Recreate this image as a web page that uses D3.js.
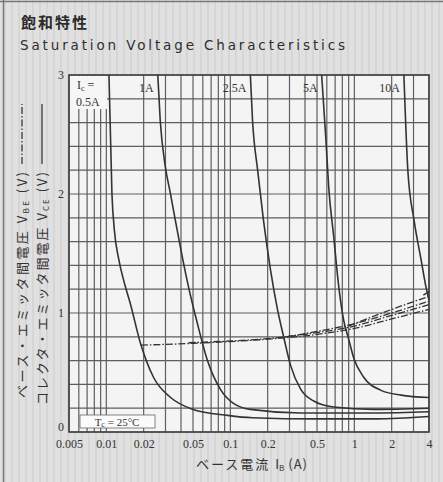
<!DOCTYPE html>
<html lang="ja">
<head>
  <meta charset="UTF-8" />
  <title>飽和特性 Saturation Voltage Characteristics</title>
  <script src="https://d3js.org/d3.v7.min.js"></script>
  <style>
    body {
      margin: 0;
      background: #dedede;
    }
    svg {
      display: block;
    }
    .grid line {
      stroke: #5e5e5e;
      stroke-width: 1.2px;
    }
    .tick-label text {
      font-family: "Liberation Serif", serif;
      font-size: 12px;
      fill: #333;
    }
    .curve {
      fill: none;
      stroke: #333;
      stroke-width: 1.6px;
    }
    .vbe {
      stroke-dasharray: 7 2 1.5 2;
      stroke-width: 1.3px;
    }
  </style>
</head>
<body>
  <svg width="443" height="482"></svg>

  <script>
    // collector current of each curve
    const icLabels = ["0.5A", "1A", "2.5A", "5A", "10A"];

    // V_CE vs I_B  ([I_B in A, V])
    const vce05 = [[0.0105, 3.0], [0.0111, 2.0], [0.0116, 1.7], [0.0126, 1.45], [0.014, 1.25], [0.0156, 1.08], [0.0188, 0.75], [0.024, 0.46], [0.033, 0.29], [0.05, 0.19], [0.095, 0.14], [0.15, 0.12], [0.5, 0.11], [1.5, 0.11], [4, 0.13]];
    const vce1 = [[0.026, 3.0], [0.0272, 2.62], [0.0299, 2.23], [0.0328, 2.01], [0.036, 1.78], [0.041, 1.47], [0.046, 1.22], [0.054, 0.92], [0.065, 0.61], [0.083, 0.36], [0.106, 0.24], [0.145, 0.19], [0.37, 0.16], [1.5, 0.16], [4, 0.17]];
    const vce25 = [[0.145, 3.0], [0.151, 2.62], [0.166, 2.2], [0.185, 1.78], [0.211, 1.36], [0.24, 1.03], [0.269, 0.8], [0.306, 0.56], [0.369, 0.36], [0.47, 0.26], [0.68, 0.21], [1.44, 0.19], [4, 0.2]];
    const vce5 = [[0.545, 3.0], [0.588, 2.48], [0.621, 2.06], [0.682, 1.64], [0.749, 1.22], [0.82, 0.94], [0.9, 0.78], [0.99, 0.62], [1.19, 0.46], [1.64, 0.35], [2.38, 0.31], [4, 0.29]];
    const vce10 = [[2.51, 3.0], [2.7, 2.2], [3.03, 1.78], [3.45, 1.45], [3.78, 1.22], [4, 1.11]];

    // V_BE vs I_B
    const vbe05 = [[0.019, 0.73], [0.05, 0.745], [0.1, 0.76], [0.2, 0.78], [0.5, 0.82], [1, 0.87], [2, 0.95], [4, 1.03]];
    const vbe1 = [[0.046, 0.75], [0.1, 0.765], [0.2, 0.785], [0.5, 0.835], [1, 0.89], [2, 0.98], [4, 1.07]];
    const vbe25 = [[0.28, 0.8], [0.5, 0.845], [1, 0.91], [2, 1.0], [4, 1.1]];
    const vbe5 = [[0.9, 0.89], [2, 1.03], [4, 1.14]];
    const vbe10 = [[3.6, 1.15], [4, 1.18]];

    const vceSeries = [vce05, vce1, vce25, vce5, vce10];
    const vbeSeries = [vbe05, vbe1, vbe25, vbe5, vbe10];

    const xTickValues = [0.005, 0.01, 0.02, 0.05, 0.1, 0.2, 0.5, 1, 2, 4];
    const xTickLabels = ["0.005", "0.01", "0.02", "0.05", "0.1", "0.2", "0.5", "1", "2", "4"];
    const yTickValues = [0, 1, 2, 3];

    const svg = d3.select("svg");
    const margin = { top: 75, right: 14, bottom: 50, left: 69 };
    const W = +svg.attr("width"), H = +svg.attr("height");

    const x = d3.scaleLog().domain([0.005, 4]).range([margin.left, W - margin.right]);
    const y = d3.scaleLinear().domain([0, 3]).range([H - margin.bottom, margin.top]);

    // scanned-paper background
    const defs = svg.append("defs");
    const stripes = defs.append("pattern")
      .attr("id", "scan").attr("patternUnits", "userSpaceOnUse")
      .attr("width", 7).attr("height", 10);
    stripes.append("rect").attr("width", 7).attr("height", 10).attr("fill", "#e0e0e0");
    stripes.append("rect").attr("x", 4).attr("width", 2).attr("height", 10).attr("fill", "#d6d6d6");

    svg.append("rect").attr("width", W).attr("height", H).attr("fill", "url(#scan)");
    svg.append("line").attr("x1", 0).attr("x2", W).attr("y1", 1.5).attr("y2", 1.5)
      .attr("stroke", "#777").attr("stroke-width", 1.5);
    svg.append("line").attr("x1", 3.5).attr("x2", 3.5).attr("y1", 0).attr("y2", H)
      .attr("stroke", "#777").attr("stroke-width", 1.5);

    // titles
    svg.append("text")
      .attr("x", 21).attr("y", 28)
      .attr("font-family", "'Noto Sans CJK JP', sans-serif")
      .attr("font-weight", "bold").attr("font-size", 15)
      .attr("letter-spacing", 2).attr("fill", "#2a2a2a")
      .text("飽和特性");
    svg.append("text")
      .attr("x", 20).attr("y", 50)
      .attr("font-family", "'DejaVu Sans', sans-serif")
      .attr("font-size", 13.5).attr("fill", "#2e2e2e")
      .attr("textLength", 325).attr("lengthAdjust", "spacing")
      .text("Saturation Voltage Characteristics");

    // plot area
    const [x0, x1] = x.range(), [y0, y1] = y.range();
    svg.append("rect")
      .attr("x", x0).attr("y", y1).attr("width", x1 - x0).attr("height", y0 - y1)
      .attr("fill", "#f4f4f4");

    const grid = svg.append("g").attr("class", "grid");
    grid.selectAll(".gx").data(x.ticks()).join("line")
      .attr("x1", d => x(d)).attr("x2", d => x(d))
      .attr("y1", y0).attr("y2", y1);
    grid.selectAll(".gy").data(y.ticks(15)).join("line")
      .attr("x1", x0).attr("x2", x1)
      .attr("y1", d => y(d)).attr("y2", d => y(d));

    svg.append("rect")
      .attr("x", x0).attr("y", y1).attr("width", x1 - x0).attr("height", y0 - y1)
      .attr("fill", "none").attr("stroke", "#444").attr("stroke-width", 1.6);

    // label box for Ic = 0.5A in the corner
    svg.append("rect")
      .attr("x", x0 + 1).attr("y", y1 + 1).attr("width", x(vce05[0][0]) - x0 - 3).attr("height", 33)
      .attr("fill", "#f6f6f6");

    const line = d3.line()
      .x(d => x(d[0]))
      .y(d => y(d[1]))
      .curve(d3.curveMonotoneX);

    svg.append("g").selectAll("path").data(vbeSeries).join("path")
      .attr("class", "curve vbe")
      .attr("d", line);

    svg.append("g").selectAll("path").data(vceSeries).join("path")
      .attr("class", "curve")
      .attr("d", line);

    // curve labels
    const lbl = svg.append("g")
      .attr("font-family", "'Liberation Serif', serif")
      .attr("font-size", 12).attr("fill", "#333");
    lbl.selectAll("text").data(vceSeries.slice(1)).join("text")
      .attr("x", d => x(d[0][0]) - 4)
      .attr("y", y1 + 17)
      .attr("text-anchor", "end")
      .text((d, i) => icLabels[i + 1]);

    const ic = lbl.append("text").attr("x", x0 + 8).attr("y", y1 + 14);
    ic.append("tspan").text("I");
    ic.append("tspan").attr("font-size", 8).attr("dy", 2).text("c");
    ic.append("tspan").attr("dy", -2).text(" =");
    lbl.append("text")
      .attr("x", x0 + 7).attr("y", y1 + 31)
      .text(icLabels[0]);

    // Tc box
    svg.append("rect")
      .attr("x", 80).attr("y", 415).attr("width", 75).attr("height", 13)
      .attr("fill", "#fbfbfb").attr("stroke", "#666").attr("stroke-width", 0.8);
    const tc = svg.append("text")
      .attr("x", 117).attr("y", 425.5).attr("text-anchor", "middle")
      .attr("font-family", "'Liberation Serif', serif")
      .attr("font-size", 11).attr("fill", "#333");
    tc.append("tspan").text("T");
    tc.append("tspan").attr("font-size", 8).attr("dy", 1.5).text("c");
    tc.append("tspan").attr("dy", -1.5).text(" = 25°C");

    // axes
    const xAxis = svg.append("g")
      .attr("class", "tick-label")
      .attr("transform", `translate(0,${y0})`)
      .call(d3.axisBottom(x).tickValues(xTickValues)
        .tickFormat((d, i) => xTickLabels[i]).tickSize(0).tickPadding(7));
    xAxis.select(".domain").remove();

    const yAxis = svg.append("g")
      .attr("class", "tick-label")
      .attr("transform", `translate(${x0},0)`)
      .call(d3.axisLeft(y).tickValues(yTickValues).tickFormat(d3.format("d"))
        .tickSize(0).tickPadding(5));
    yAxis.select(".domain").remove();
    yAxis.selectAll("text").attr("font-size", 11);
    yAxis.selectAll(".tick").filter(d => d === 0).select("text").attr("dy", "-0.1em");

    // x axis title
    const xt = svg.append("text")
      .attr("x", 252).attr("y", 469).attr("text-anchor", "middle")
      .attr("font-family", "'Noto Sans CJK JP', sans-serif")
      .attr("font-size", 13).attr("fill", "#333");
    xt.append("tspan").attr("letter-spacing", 2).text("ベース電流 ");
    xt.append("tspan").text("I");
    xt.append("tspan").attr("font-size", 8).attr("dy", 2).text("B");
    xt.append("tspan").attr("dy", -2).attr("letter-spacing", 1).text(" (A)");

    // y axis titles (rotated), with legend line for each
    const yTitles = [
      { cx: 22, text: "ベース・エミッタ間電圧 V", sub: "BE", start: 398, dash: "7 2 1.5 2" },
      { cx: 42, text: "コレクタ・エミッタ間電圧 V", sub: "CE", start: 405, dash: null }
    ];
    yTitles.forEach(t => {
      const g = svg.append("g");
      const tx = g.append("text")
        .attr("transform", `translate(${t.cx + 5},${t.start}) rotate(-90)`)
        .attr("font-family", "'Noto Sans CJK JP', sans-serif")
        .attr("font-size", 13).attr("fill", "#333")
        .attr("textLength", t.start - 172).attr("lengthAdjust", "spacing");
      tx.append("tspan").text(t.text);
      tx.append("tspan").attr("font-size", 8).attr("dy", 2).text(t.sub);
      tx.append("tspan").attr("dy", -2).text(" (V)");
      g.append("line")
        .attr("x1", t.cx).attr("x2", t.cx).attr("y1", 164).attr("y2", 104)
        .attr("stroke", "#444").attr("stroke-width", 1.4)
        .attr("stroke-dasharray", t.dash);
    });
  </script>
</body>
</html>
